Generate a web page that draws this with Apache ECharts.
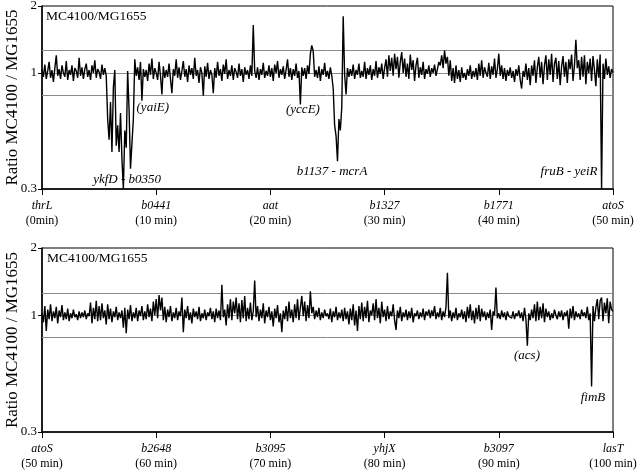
<!DOCTYPE html>
<html><head><meta charset="utf-8">
<script src="https://cdn.jsdelivr.net/npm/echarts@6/dist/echarts.min.js"></script>
<style>html,body{margin:0;padding:0;background:#fff}#c{width:640px;height:473px}</style>
</head><body><div id="c"></div>
<script>
// ---- data ----
const topGenes = ['thrL','b0441','aat','b1327','b1771','atoS'];
const topMins = ['(0min)','(10 min)','(20 min)','(30 min)','(40 min)','(50 min)'];
const botGenes = ['atoS','b2648','b3095','yhjX','b3097','lasT'];
const botMins = ['(50 min)','(60 min)','(70 min)','(80 min)','(90 min)','(100 min)'];
const yTickValues = [0.3, 1, 2];
const refLines = [0.8, 1, 1.25];
const stepMin = 0.125;
const topStart = 0, botStart = 50;

// ratios every 1/8 minute, 0-50 min (one row = one minute)
const topRatio = [
1.04,0.96,1.09,0.94,1.02,1.12,0.95,1.03,
0.91,1.05,1.20,0.97,1.04,0.94,1.08,1.00,
0.96,1.13,0.93,1.03,0.98,1.08,0.92,1.05,
1.02,0.95,1.17,0.97,1.06,0.94,1.04,1.10,
0.96,1.03,0.93,1.08,1.00,1.14,0.95,1.04,
1.01,0.94,1.09,0.98,1.05,0.97,0.62,0.50,
0.74,0.44,0.86,1.03,0.47,0.58,0.44,0.66,
0.41,0.30,0.55,0.46,1.02,0.68,0.37,0.48,
0.62,1.15,0.97,1.06,0.93,1.12,0.75,1.04,
0.96,1.03,0.92,1.10,0.98,1.16,0.94,1.05,
1.00,0.93,1.12,0.97,0.80,1.07,0.95,1.03,
0.96,1.10,0.94,0.81,1.04,0.97,1.15,0.95,
1.06,0.93,1.02,1.13,0.96,1.04,0.91,1.08,
0.98,1.05,0.94,1.17,0.97,1.03,0.90,1.06,
1.00,0.79,1.07,0.96,1.11,0.94,1.03,0.98,
0.81,1.05,0.95,1.12,0.97,1.04,0.92,1.09,
0.99,1.15,0.94,1.03,0.97,1.08,0.93,1.05,
1.01,0.95,1.10,0.97,1.04,0.91,1.06,0.98,
1.03,0.94,1.08,0.97,1.64,1.02,0.95,1.06,
0.93,1.04,0.98,1.11,0.95,1.02,0.97,1.08,
0.96,1.05,0.92,1.09,1.00,1.13,0.95,1.04,
0.98,1.07,0.94,1.03,1.15,0.96,1.05,0.93,
1.04,0.97,1.10,0.95,1.02,0.72,1.06,0.97,
1.05,0.94,1.08,0.99,1.22,1.33,1.25,0.96,
1.03,0.95,1.07,0.92,1.04,0.98,1.11,0.96,
1.02,0.94,1.06,0.97,0.85,0.58,0.52,0.40,
0.62,0.55,0.70,1.80,0.98,0.80,1.05,0.96,
1.04,0.97,1.09,0.94,1.03,0.98,1.10,0.95,
1.02,0.96,1.12,0.94,1.05,0.98,1.08,0.93,
1.04,0.97,1.13,0.95,1.06,0.99,1.10,0.94,
1.05,1.15,0.96,1.20,1.02,1.17,0.97,1.22,
1.04,1.18,0.95,1.12,1.24,1.00,1.16,0.96,
1.10,0.94,1.21,1.03,1.14,0.92,1.08,1.17,
0.95,1.06,0.98,1.12,0.94,1.04,0.99,1.08,
0.96,1.05,1.00,1.09,0.97,1.04,1.12,1.08,
1.20,1.05,1.26,1.10,1.18,0.97,1.14,0.92,
1.05,0.90,1.08,0.94,1.03,0.91,1.06,0.95,
1.00,0.93,1.04,0.97,1.08,0.94,1.02,0.96,
1.05,0.93,1.10,0.97,1.14,0.95,1.06,1.00,
0.96,1.11,0.94,1.07,0.98,1.16,0.95,1.04,
1.22,0.97,1.08,0.94,1.05,0.92,1.03,0.97,
1.06,0.95,1.02,0.91,1.04,0.97,1.08,0.93,
0.85,1.02,0.96,1.10,0.93,1.05,0.88,1.08,
0.97,1.14,0.90,1.06,1.18,0.95,1.12,0.89,
1.08,1.20,0.93,1.15,0.98,1.22,0.91,1.10,
1.17,0.94,1.13,0.88,1.07,1.19,0.96,1.12,
0.90,1.15,1.04,1.21,0.92,1.08,1.41,1.05,
1.14,0.93,1.18,0.96,1.20,0.89,1.12,1.00,
1.16,0.92,1.19,1.03,0.87,1.15,0.95,1.21,
0.30,1.10,0.94,1.16,0.98,1.07,0.95,1.04,
1.00
];

// ratios every 1/8 minute, 50-100 min
const botRatio = [
1.02,0.93,1.10,0.85,1.06,0.96,1.12,0.94,
1.04,0.97,1.09,0.92,1.05,0.98,1.11,0.95,
1.03,0.96,1.07,0.94,1.02,0.97,1.06,0.98,
1.01,0.95,1.04,0.97,1.03,0.98,1.05,0.96,
1.02,0.99,1.14,0.92,1.08,0.96,1.16,0.94,
1.10,0.95,1.13,0.97,1.05,0.91,1.12,0.96,
1.07,0.93,1.04,0.98,1.09,0.95,1.03,0.97,
1.05,0.88,1.08,0.83,1.06,0.96,1.11,0.94,
1.03,0.97,1.08,0.94,1.05,0.99,1.10,0.95,
1.04,0.96,1.12,0.98,1.07,0.94,1.15,1.00,
1.18,0.97,1.23,1.05,1.20,0.95,1.09,0.93,
1.06,0.98,1.10,0.94,1.03,0.97,1.08,0.95,
1.04,0.99,1.20,0.84,1.06,0.97,1.10,0.95,
1.03,0.92,1.07,0.98,1.04,0.96,1.09,0.94,
1.02,0.97,1.06,0.95,1.03,0.99,1.08,0.96,
1.04,0.93,1.07,0.97,1.05,0.95,1.37,0.98,
1.06,0.90,1.12,0.97,1.18,0.95,1.15,1.02,
1.20,0.96,1.13,0.93,1.17,0.97,1.22,0.94,
1.08,0.96,1.14,0.95,1.04,1.43,0.98,1.10,
0.94,1.06,0.97,1.13,0.92,1.05,0.98,1.09,
0.95,1.04,0.89,1.07,0.97,1.11,0.93,1.02,
0.84,1.05,0.96,1.10,0.94,1.15,0.97,1.06,
0.93,1.12,0.97,1.18,0.95,1.08,1.22,0.99,
1.15,0.94,1.11,0.97,1.28,1.02,1.09,0.96,
1.05,0.98,1.08,0.95,1.03,0.97,1.06,0.99,
1.02,0.96,1.07,0.93,1.04,0.98,1.09,0.95,
1.03,0.97,1.06,0.94,1.08,0.96,1.04,0.91,
1.07,0.95,1.12,0.90,1.05,0.85,1.10,0.96,
1.14,0.94,1.09,0.97,1.16,0.93,1.05,1.00,
1.13,0.95,1.18,0.97,1.08,0.92,1.15,0.98,
1.06,0.94,1.10,0.96,1.04,0.99,1.12,0.95,
0.86,1.05,0.97,1.09,0.94,1.03,0.98,1.06,
0.95,1.04,0.97,1.08,0.93,1.02,0.99,1.05,
0.96,1.03,0.98,1.07,0.95,1.04,1.00,1.06,
0.97,1.05,0.99,1.10,0.96,1.03,0.98,1.08,
0.95,1.04,0.98,1.09,1.55,0.97,1.05,0.94,
1.03,0.97,1.08,0.95,1.02,0.98,1.06,0.96,
1.04,0.93,1.09,0.97,1.12,0.95,1.05,0.92,
1.08,0.96,1.11,0.94,1.07,0.98,1.04,0.95,
1.03,0.97,1.06,0.86,1.04,1.00,1.33,0.97,
1.02,0.96,1.05,0.98,1.03,0.95,1.04,0.99,
1.01,0.97,1.04,0.96,1.02,0.99,1.05,0.97,
1.03,0.94,1.08,0.96,0.73,1.02,0.95,1.06,
0.97,1.12,0.94,1.15,0.95,1.09,0.97,1.13,
0.93,1.07,0.98,1.04,0.95,1.02,0.97,1.06,
1.00,0.96,1.04,0.98,1.05,0.95,1.03,0.99,
1.05,0.87,1.07,0.97,1.10,0.95,1.04,0.98,
1.02,0.96,1.06,0.99,1.03,0.97,1.09,0.95,
1.02,0.48,1.10,0.94,1.08,1.18,0.96,1.16,
1.20,0.94,1.14,1.02,1.19,0.92,1.15,1.06,
1.04
];

const topNotes = ['ykfD - b0350','(yaiE)','(yccE)','b1137 - mcrA','fruB - yeiR'];
const botNotes = ['(acs)','fimB'];

// ---- chart ----
const L = Math.log10;
const serif = 'Liberation Serif';
function pts(vals, start){ return vals.map((v,i)=>[start + i*stepMin, L(v)]); }

function yAxisDef(gi){
  return {
    type:'value', gridIndex:gi, min:L(0.3), max:L(2),
    name:'Ratio MC4100 / MG1655', nameLocation:'middle', nameGap:21, nameMoveOverlap:false,
    nameTextStyle:{fontFamily:serif, fontSize:17, color:'#000'},
    axisLine:{show:true, lineStyle:{color:'#000', width:1.5}},
    axisTick:{show:true, customValues:yTickValues.map(L), length:4, lineStyle:{color:'#000'}},
    axisLabel:{customValues:yTickValues.map(L), margin:5, color:'#000', fontFamily:serif, fontSize:13,
      formatter:v=>String(Math.round(Math.pow(10,v)*10)/10)},
    splitLine:{show:false}
  };
}
function xAxisDef(gi, start, genes, mins){
  return {
    type:'value', gridIndex:gi, min:start, max:start+50, interval:10,
    axisLine:{onZero:false, lineStyle:{color:'#000', width:1.5}},
    axisTick:{length:6, lineStyle:{color:'#000'}},
    axisLabel:{showMinLabel:true, showMaxLabel:true, margin:9, color:'#000', hideOverlap:false,
      formatter:v=>{const i=Math.round((v-start)/10); return '{g|'+genes[i]+'}\n{m|'+mins[i]+'}';},
      rich:{g:{fontStyle:'italic', fontFamily:serif, fontSize:12, lineHeight:15, color:'#000'},
            m:{fontFamily:serif, fontSize:12, lineHeight:15, color:'#000'}}},
    splitLine:{show:false}
  };
}
function noteData(names, coords){
  return names.map((n,i)=>({name:n, coord:[coords[i][0], L(coords[i][1])], value:n}));
}
function lineSeries(gi, vals, start, notes){
  return {
    type:'line', xAxisIndex:gi, yAxisIndex:gi, data:pts(vals,start),
    showSymbol:false, symbol:'none', z:3,
    lineStyle:{color:'#000', width:1.4}, animation:false,
    markLine:{silent:true, symbol:'none', z:1, animation:false,
      lineStyle:{color:'#8a8a8a', type:'solid', width:1},
      label:{show:false},
      data:refLines.map(r=>({yAxis:L(r)}))},
    markPoint:{silent:true, symbol:'circle', symbolSize:0, animation:false, z:4,
      label:{show:true, position:'inside', formatter:'{b}', color:'#000',
        fontFamily:serif, fontStyle:'italic', fontSize:13},
      data:notes}
  };
}

const chart = echarts.init(document.getElementById('c'));
chart.setOption({
  animation:false,
  backgroundColor:'#fff',
  title:[
    {text:'MC4100/MG1655', left:46, top:9, textStyle:{fontFamily:serif, fontSize:13.5, fontWeight:'normal', color:'#000'}, padding:0},
    {text:'MC4100/MG1655', left:47, top:251, textStyle:{fontFamily:serif, fontSize:13.5, fontWeight:'normal', color:'#000'}, padding:0}
  ],
  grid:[
    {left:42, right:27, top:6, height:183, show:true, borderColor:'#000', borderWidth:1, backgroundColor:'transparent', outerBoundsMode:'none', containLabel:false},
    {left:42, right:27, top:248, height:184, show:true, borderColor:'#000', borderWidth:1, backgroundColor:'transparent', outerBoundsMode:'none', containLabel:false}
  ],
  xAxis:[xAxisDef(0, topStart, topGenes, topMins), xAxisDef(1, botStart, botGenes, botMins)],
  yAxis:[yAxisDef(0), yAxisDef(1)],
  series:[
    lineSeries(0, topRatio, topStart, noteData(topNotes, [[7.45,0.33],[9.7,0.695],[22.85,0.68],[25.4,0.358],[46.15,0.358]])),
    lineSeries(1, botRatio, botStart, noteData(botNotes, [[92.47,0.657],[98.25,0.427]]))
  ]
});
</script>
</body></html>
